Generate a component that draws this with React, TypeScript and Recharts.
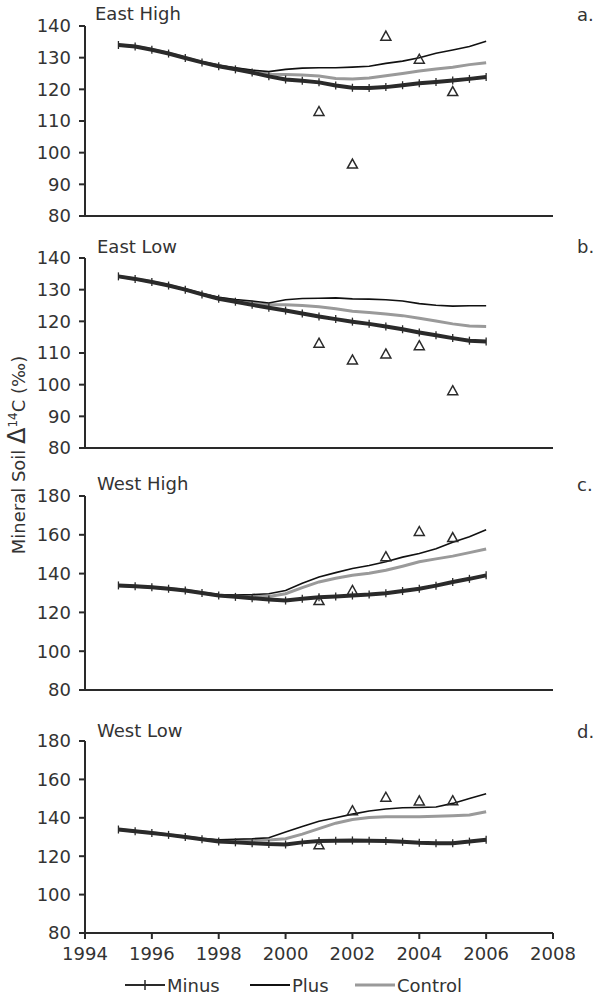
import React from 'react';
import { ComposedChart, Line, Scatter, XAxis, YAxis } from 'recharts';

// Time axis (years), half-year steps
const YEARS = [1995, 1995.5, 1996, 1996.5, 1997, 1997.5, 1998, 1998.5, 1999, 1999.5, 2000, 2000.5, 2001, 2001.5, 2002, 2002.5, 2003, 2003.5, 2004, 2004.5, 2005, 2005.5, 2006];
const X_TICKS = [1994, 1996, 1998, 2000, 2002, 2004, 2006, 2008];
const OBS_YEARS = [2001, 2002, 2003, 2004, 2005];

// a. East High
const EH_MINUS = [134, 133.5, 132.5, 131.3, 129.9, 128.5, 127.3, 126.3, 125.3, 124.1, 123.1, 122.7, 122.2, 121.2, 120.5, 120.4, 120.7, 121.3, 121.9, 122.3, 122.8, 123.3, 123.9];
const EH_PLUS = [134, 133.6, 132.6, 131.4, 130.0, 128.7, 127.6, 126.8, 126.1, 125.6, 126.3, 126.7, 126.8, 126.8, 127.0, 127.3, 128.2, 128.9, 130.0, 131.4, 132.4, 133.5, 135.2];
const EH_CONTROL = [134, 133.6, 132.6, 131.4, 130.0, 128.6, 127.5, 126.6, 125.7, 124.8, 124.7, 124.5, 124.2, 123.4, 123.3, 123.6, 124.3, 125.0, 125.8, 126.4, 127.0, 127.8, 128.4];
const EH_OBS = [113.0, 96.4, 136.8, 129.5, 119.3];

// b. East Low
const EL_MINUS = [134.2, 133.4, 132.4, 131.3, 130.0, 128.5, 127.1, 126.2, 125.2, 124.3, 123.4, 122.5, 121.5, 120.7, 119.9, 119.2, 118.4, 117.5, 116.5, 115.6, 114.7, 113.9, 113.6];
const EL_PLUS = [134.2, 133.4, 132.5, 131.4, 130.2, 128.8, 127.6, 126.9, 126.4, 125.8, 126.8, 127.2, 127.3, 127.4, 127.1, 127.0, 126.8, 126.4, 125.6, 125.1, 124.8, 124.9, 124.9];
const EL_CONTROL = [134.2, 133.4, 132.5, 131.4, 130.1, 128.7, 127.4, 126.6, 125.8, 125.2, 125.2, 125.0, 124.6, 124.0, 123.2, 122.8, 122.3, 121.8, 121.0, 120.1, 119.2, 118.5, 118.4];
const EL_OBS = [113.1, 107.8, 109.7, 112.3, 98.1];

// c. West High
const WH_MINUS = [133.9, 133.5, 133.0, 132.2, 131.3, 130.0, 128.7, 128.0, 127.3, 126.7, 126.1, 127.0, 127.8, 128.2, 128.7, 129.2, 129.9, 131.0, 132.2, 133.8, 135.7, 137.3, 139.1];
const WH_PLUS = [133.9, 133.5, 133.0, 132.3, 131.4, 130.2, 129.2, 129.0, 129.2, 129.6, 131.3, 135.0, 138.3, 140.5, 142.6, 144.2, 146.1, 148.5, 150.4, 152.8, 156.2, 159.0, 162.6];
const WH_CONTROL = [133.9, 133.5, 133.0, 132.3, 131.4, 130.1, 128.9, 128.4, 128.3, 128.2, 129.6, 132.8, 135.7, 137.6, 139.1, 140.2, 141.7, 143.8, 146.1, 147.6, 149.0, 150.8, 152.7];
const WH_OBS = [126.1, 131.3, 148.7, 161.7, 158.6];

// d. West Low
const WL_MINUS = [133.9, 133.0, 132.1, 131.1, 130.0, 128.8, 127.7, 127.2, 126.8, 126.3, 126.1, 127.2, 127.9, 128.1, 128.2, 128.1, 127.9, 127.5, 127.0, 126.7, 126.8, 127.6, 128.6];
const WL_PLUS = [133.9, 133.0, 132.2, 131.2, 130.2, 129.2, 128.6, 128.8, 129.1, 129.6, 132.6, 135.5, 138.2, 140.0, 141.9, 143.5, 144.6, 145.2, 145.4, 145.6, 147.5, 150.0, 152.5];
const WL_CONTROL = [133.9, 133.0, 132.2, 131.2, 130.1, 129.0, 128.2, 128.3, 128.6, 128.5, 129.1, 131.5, 134.4, 137.2, 139.1, 140.1, 140.5, 140.6, 140.5, 140.8, 141.1, 141.5, 143.2];
const WL_OBS = [125.9, 143.7, 150.7, 148.8, 148.9];

const Y_TICKS_EAST = [80, 90, 100, 110, 120, 130, 140];
const Y_TICKS_WEST = [80, 100, 120, 140, 160, 180];

const INK = '#2a2a2a';
const GREY = '#9a9a9a';

function rows(minus: number[], plus: number[], control: number[]) {
  return YEARS.map((t, i) => ({ t, minus: minus[i], plus: plus[i], control: control[i] }));
}
function obsRows(vals: number[]) {
  return OBS_YEARS.map((t, i) => ({ t, obs: vals[i] }));
}

const CrossDot = (props: any) => {
  const { cx, cy } = props;
  if (cx == null || cy == null) return <g />;
  return (
    <g>
      <line x1={cx} y1={cy - 4} x2={cx} y2={cy + 4} stroke={INK} strokeWidth={1.3} />
    </g>
  );
};

const Triangle = (props: any) => {
  const { cx, cy } = props;
  if (cx == null || cy == null) return <g />;
  return (
    <path
      d={`M${cx},${cy - 5} L${cx + 5},${cy + 4} L${cx - 5},${cy + 4} Z`}
      fill="none"
      stroke={INK}
      strokeWidth={1.5}
    />
  );
};

type PanelProps = {
  plotTop: number;
  plotBottom: number;
  data: any[];
  obs: any[];
  yDomain: [number, number];
  yTicks: number[];
  showXLabels: boolean;
};

function Panel({ plotTop, plotBottom, data, obs, yDomain, yTicks, showXLabels }: PanelProps) {
  const mTop = 12;
  const xH = 40;
  const height = plotBottom - plotTop + mTop + xH;
  return (
    <div style={{ position: 'absolute', left: 0, top: plotTop - mTop, width: 595, height }}>
      <ComposedChart width={595} height={height} margin={{ top: mTop, right: 42, bottom: 0, left: 0 }}>
        <XAxis
          dataKey="t"
          type="number"
          domain={[1994, 2008]}
          ticks={X_TICKS}
          allowDataOverflow
          height={xH}
          axisLine={{ stroke: INK, strokeWidth: 2 }}
          tickLine={{ stroke: INK, strokeWidth: 2 }}
          tickSize={6}
          tickMargin={8}
          tick={showXLabels ? { fontSize: 18, fill: '#333' } : false}
        />
        <YAxis
          type="number"
          domain={yDomain}
          ticks={yTicks}
          allowDataOverflow
          width={85}
          axisLine={{ stroke: INK, strokeWidth: 2 }}
          tickLine={{ stroke: INK, strokeWidth: 2 }}
          tickSize={6}
          tickMargin={8}
          tick={{ fontSize: 18, fill: '#333' }}
        />
        <Line data={data} dataKey="control" stroke={GREY} strokeWidth={3} dot={false} isAnimationActive={false} type="linear" />
        <Line data={data} dataKey="plus" stroke="#111" strokeWidth={1.6} dot={false} isAnimationActive={false} type="linear" />
        <Line data={data} dataKey="minus" stroke={INK} strokeWidth={4} dot={<CrossDot />} isAnimationActive={false} type="linear" />
        <Scatter data={obs} dataKey="obs" shape={<Triangle />} isAnimationActive={false} />
      </ComposedChart>
    </div>
  );
}

export default function App() {
  return (
    <div
      style={{
        position: 'absolute',
        left: 0,
        top: 0,
        width: 595,
        height: 1000,
        background: '#fff',
        fontFamily: '"DejaVu Sans", sans-serif',
        overflow: 'hidden',
      }}
    >
      <Panel plotTop={26} plotBottom={216} data={rows(EH_MINUS, EH_PLUS, EH_CONTROL)} obs={obsRows(EH_OBS)} yDomain={[80, 140]} yTicks={Y_TICKS_EAST} showXLabels={false} />
      <Panel plotTop={258} plotBottom={448} data={rows(EL_MINUS, EL_PLUS, EL_CONTROL)} obs={obsRows(EL_OBS)} yDomain={[80, 140]} yTicks={Y_TICKS_EAST} showXLabels={false} />
      <Panel plotTop={496} plotBottom={690} data={rows(WH_MINUS, WH_PLUS, WH_CONTROL)} obs={obsRows(WH_OBS)} yDomain={[80, 180]} yTicks={Y_TICKS_WEST} showXLabels={false} />
      <Panel plotTop={741} plotBottom={933} data={rows(WL_MINUS, WL_PLUS, WL_CONTROL)} obs={obsRows(WL_OBS)} yDomain={[80, 180]} yTicks={Y_TICKS_WEST} showXLabels={true} />
      <svg width={595} height={1000} style={{ position: 'absolute', left: 0, top: 0, pointerEvents: 'none' }}>
        <g fontSize={18} fill="#333">
          <text x={95} y={20}>East High</text>
          <text x={97} y={253}>East Low</text>
          <text x={97} y={490}>West High</text>
          <text x={97} y={737}>West Low</text>
          <text x={577} y={21}>a.</text>
          <text x={577} y={253}>b.</text>
          <text x={577} y={491}>c.</text>
          <text x={577} y={738}>d.</text>
          <text transform="translate(25,455) rotate(-90)" textAnchor="middle">
            Mineral Soil <tspan fontSize={24}>Δ</tspan>
            <tspan fontSize={12} dy={-8}>14</tspan>
            <tspan dy={8}>C (‰)</tspan>
          </text>
        </g>
        <g>
          <line x1={125} y1={985} x2={165} y2={985} stroke={INK} strokeWidth={2} />
          <line x1={145} y1={980} x2={145} y2={990} stroke={INK} strokeWidth={1.5} />
          <text x={167} y={991.5} fontSize={18} fill="#333">Minus</text>
          <line x1={250} y1={985} x2={290} y2={985} stroke="#111" strokeWidth={2} />
          <text x={292} y={991.5} fontSize={18} fill="#333">Plus</text>
          <line x1={355} y1={985} x2={395} y2={985} stroke={GREY} strokeWidth={3} />
          <text x={397} y={991.5} fontSize={18} fill="#333">Control</text>
        </g>
      </svg>
    </div>
  );
}
